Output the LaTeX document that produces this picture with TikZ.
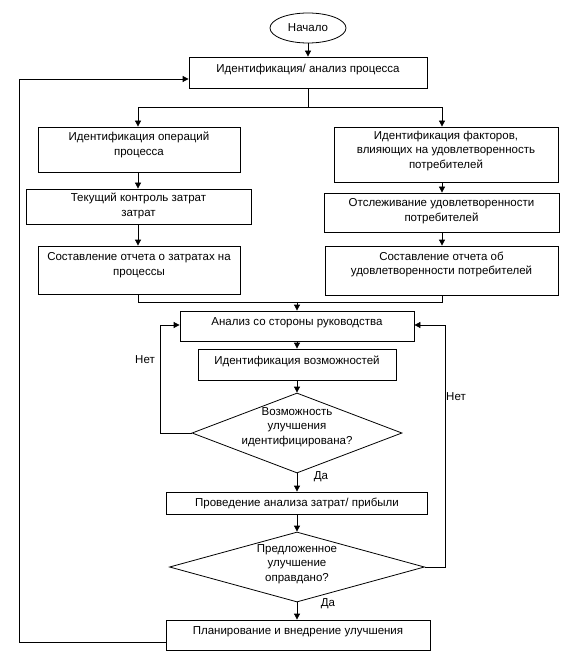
\documentclass[tikz,border=0pt]{standalone}
\usepackage{fontspec}
\setmainfont{Liberation Sans}
\usetikzlibrary{shapes.geometric,arrows.meta}
\begin{document}
\begin{tikzpicture}[x=1pt,y=-1pt,
  line width=0.8pt,
  box/.style={draw, rectangle, inner sep=0pt},
  dia/.style={draw, diamond, inner sep=0pt},
  txt/.style={align=center, font=\fontsize{11.5}{14.5}\selectfont, inner sep=0pt},
  lbl/.style={font=\fontsize{11.5}{14}\selectfont, inner sep=0pt},
  arr/.style={-{Triangle[length=6pt,width=6pt]}}]
\useasboundingbox (0,0) rectangle (570,660);

\node[draw, ellipse, minimum width=76pt, minimum height=30pt, inner sep=0pt, font=\fontsize{11.5}{14}\selectfont] (start) at (308,28) {Начало};

\node[box, minimum width=238pt, minimum height=31pt] (B1) at (308,72.5) {};
\node[txt] (B1t) at (308,70) {Идентификация/ анализ процесса};

\node[box, minimum width=202pt, minimum height=45pt] (L1) at (139,149.5) {};
\node[txt] (L1t) at (139,145) {Идентификация операций\\процесса};

\node[box, minimum width=224pt, minimum height=55pt] (R1) at (446,154.5) {};
\node[txt] (R1t) at (446,151) {Идентификация факторов,\\влияющих на удовлетворенность\\потребителей};

\node[box, minimum width=225pt, minimum height=35pt] (L2) at (138.5,206.5) {};
\node[txt] (L2t) at (138.5,206) {Текущий контроль затрат\\затрат};

\node[box, minimum width=235pt, minimum height=39pt] (R2) at (441.5,212.5) {};
\node[txt] (R2t) at (441.5,211) {Отслеживание удовлетворенности\\потребителей};

\node[box, minimum width=202pt, minimum height=48pt] (L3) at (139,270) {};
\node[txt] (L3t) at (139,265) {Составление отчета о затратах на\\процессы};

\node[box, minimum width=233pt, minimum height=49pt] (R3) at (441.5,270.5) {};
\node[txt] (R3t) at (441.5,264.5) {Составление отчета об\\удовлетворенности потребителей};

\node[box, minimum width=234pt, minimum height=30pt] (A) at (297,326) {};
\node[txt] (At) at (297,323) {Анализ со стороны руководства};

\node[box, minimum width=198pt, minimum height=31pt] (IV) at (297,364.5) {};
\node[txt] (IVt) at (297,361) {Идентификация возможностей};

\node[dia, minimum width=210pt, minimum height=80pt] (D1) at (297,433) {};
\node[txt] (D1t) at (297,427) {Возможность\\улучшения\\идентифицирована?};

\node[box, minimum width=261pt, minimum height=22pt] (PA) at (296.5,503) {};
\node[txt] (PAt) at (297,503) {Проведение анализа затрат/ прибыли};

\node[dia, minimum width=255pt, minimum height=70pt] (D2) at (297,567) {};
\node[txt] (D2t) at (297,564) {Предложенное\\улучшение\\оправдано?};

\node[box, minimum width=264pt, minimum height=30pt] (PL) at (298,635) {};
\node[txt] (PLt) at (298,632) {Планирование и внедрение улучшения};

% coordinates
\coordinate (split) at (308,107);
\coordinate (cl) at (138,0);
\coordinate (cr) at (442,0);
\coordinate (merge) at (297,302);
\coordinate (nl) at (160,325);
\coordinate (nr) at (445,325);
\coordinate (fb) at (19,79);
\coordinate (fbb) at (19,642);

% connectors
\draw[arr] (start.south) -- (B1.north);
\draw (B1.south -| split) -- (split);
\draw[arr] (split) -| (cl |- L1.north);
\draw[arr] (split) -| (cr |- R1.north);
\draw[arr] (cl |- L1.south) -- (cl |- L2.north);
\draw[arr] (cl |- L2.south) -- (cl |- L3.north);
\draw[arr] (cr |- R1.south) -- (cr |- R2.north);
\draw[arr] (cr |- R2.south) -- (cr |- R3.north);
\draw (cl |- L3.south) -- (cl |- merge) -- (cr |- merge) -- (cr |- R3.south);
\draw[arr] (merge) -- (A.north);
\draw[arr] (A.south) -- (IV.north);
\draw[arr] (IV.south) -- (D1.north);
\draw[arr] (D1.south) -- (D1.south |- PA.north);
\draw[arr] (D2.north |- PA.south) -- (D2.north);
\draw[arr] (D2.south) -- (D2.south |- PL.north);
\draw[arr] (D1.west) -| (nl) -- (A.west |- nl);
\draw[arr] (D2.east) -| (nr) -- (A.east |- nr);
\draw[arr] (PL.west |- fbb) -- (fbb) -- (fb) -- (B1.west |- fb);

% labels
\node[lbl] (no1) at (145,360) {Нет};
\node[lbl] (no2) at (456,397) {Нет};
\node[lbl] (yes1) at (321,477) {Да};
\node[lbl] (yes2) at (328,604) {Да};
\end{tikzpicture}
\end{document}
